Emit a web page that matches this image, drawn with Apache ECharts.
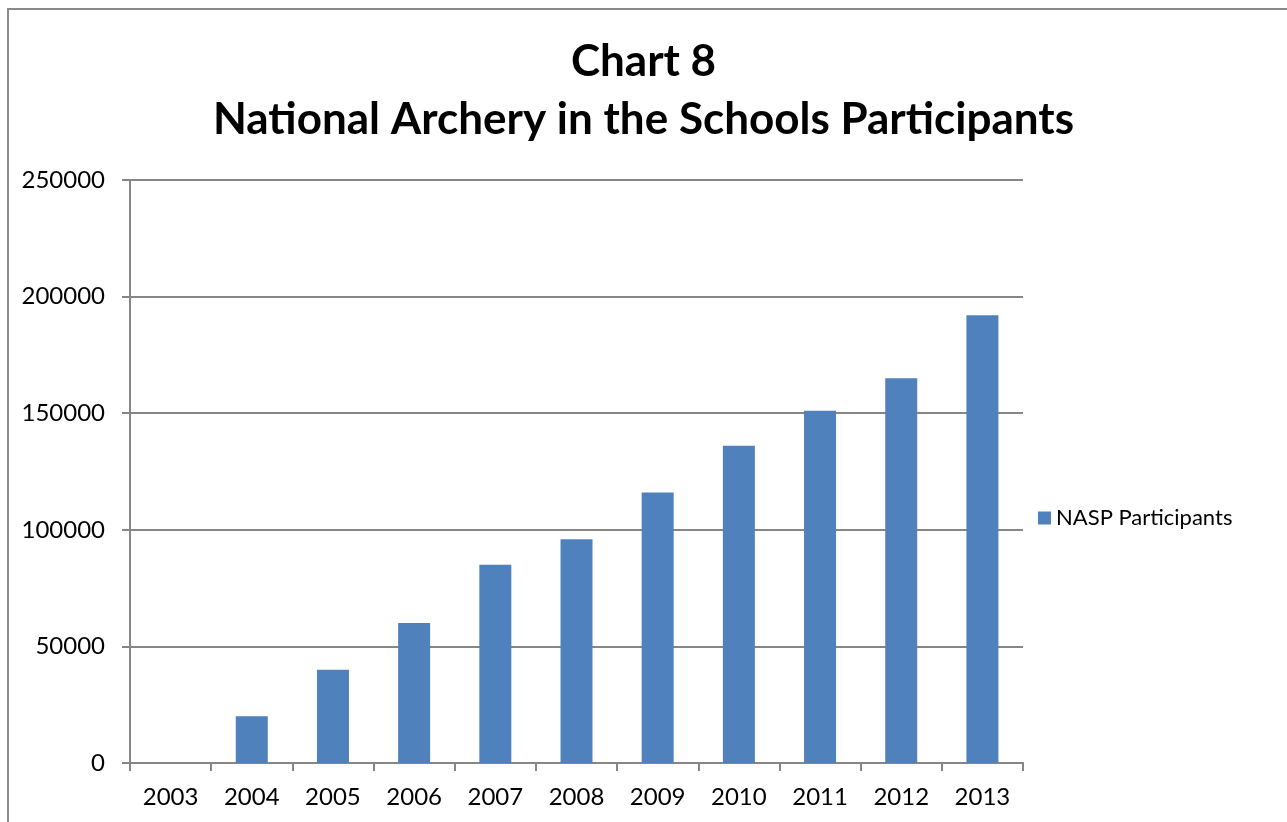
<!DOCTYPE html>
<html>
<head>
<meta charset="utf-8">
<script src="https://cdn.jsdelivr.net/npm/echarts@6/dist/echarts.min.js"></script>
<style>
  html, body { margin: 0; padding: 0; background: #fff; overflow: hidden; }
  #chart { width: 1287px; height: 822px; }
  #frame {
    position: absolute; left: 7px; top: 8px; right: -10px; bottom: -10px;
    border: 2px solid #8a8a8a; pointer-events: none;
  }
</style>
</head>
<body>
<div id="chart"></div>
<div id="frame"></div>
<script>
// NASP participants per school year
const years = ['2003', '2004', '2005', '2006', '2007', '2008', '2009', '2010', '2011', '2012', '2013']
const participants = [0, 20000, 40000, 60000, 85000, 96000, 116000, 136000, 151000, 165000, 192000]
const seriesName = 'NASP Participants'

const chart = echarts.init(document.getElementById('chart'))
const font = 'Lato, Calibri, "Liberation Sans", sans-serif'
const axisGray = '#868686'

chart.setOption({
  animation: false,
  textStyle: { fontFamily: font },
  title: {
    text: 'Chart 8\nNational Archery in the Schools Participants',
    left: 'center',
    top: 28,
    textStyle: {
      fontFamily: font,
      fontWeight: 'bold',
      fontSize: 44,
      lineHeight: 58,
      color: '#000'
    }
  },
  legend: {
    orient: 'vertical',
    left: 1033,
    top: 502,
    itemWidth: 13,
    itemHeight: 13,
    itemGap: 7,
    icon: 'rect',
    data: [seriesName],
    textStyle: { fontFamily: font, fontSize: 22, color: '#000' }
  },
  grid: {
    left: 130,
    right: 264,
    top: 180,
    bottom: 59,
    containLabel: false
  },
  xAxis: {
    type: 'category',
    data: years,
    boundaryGap: true,
    axisLine: { lineStyle: { color: axisGray, width: 2 } },
    axisTick: { show: true, length: 8, lineStyle: { color: axisGray, width: 2 } },
    axisLabel: { fontFamily: font, fontSize: 24, color: '#000', margin: 22 }
  },
  yAxis: {
    type: 'value',
    min: 0,
    max: 250000,
    interval: 50000,
    axisLine: { show: true, lineStyle: { color: axisGray, width: 2 } },
    axisTick: { show: true, length: 8, lineStyle: { color: axisGray, width: 2 } },
    splitLine: { show: true, lineStyle: { color: axisGray, width: 2 } },
    axisLabel: {
      fontFamily: font,
      fontSize: 24,
      color: '#000',
      margin: 25,
      formatter: v => String(v)
    }
  },
  series: [
    {
      name: seriesName,
      type: 'bar',
      data: participants,
      barWidth: 32,
      itemStyle: { color: '#4F81BD' }
    }
  ]
})
</script>
</body>
</html>
